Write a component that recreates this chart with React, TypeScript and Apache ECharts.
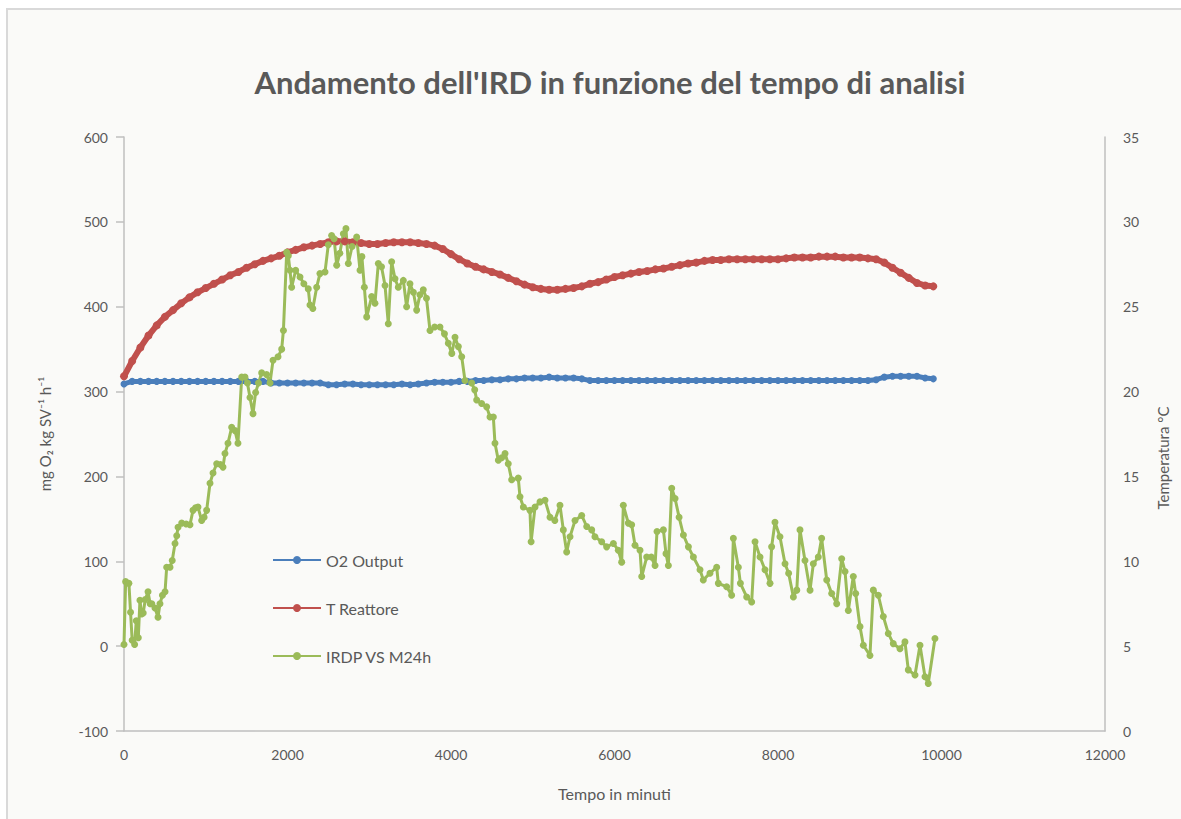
import React, { useEffect, useRef } from "react";
import * as echarts from "echarts";

// Time grid (minutes) for the two smooth series
const smoothTimes = [
  0, 100, 200, 300, 400, 500, 600, 700, 800, 900,
  1000, 1100, 1200, 1300, 1400, 1500, 1600, 1700, 1800, 1900,
  2000, 2100, 2200, 2300, 2400, 2500, 2600, 2700, 2800, 2900,
  3000, 3100, 3200, 3300, 3400, 3500, 3600, 3700, 3800, 3900,
  4000, 4100, 4200, 4300, 4400, 4500, 4600, 4700, 4800, 4900,
  5000, 5100, 5200, 5300, 5400, 5500, 5600, 5700, 5800, 5900,
  6000, 6100, 6200, 6300, 6400, 6500, 6600, 6700, 6800, 6900,
  7000, 7100, 7200, 7300, 7400, 7500, 7600, 7700, 7800, 7900,
  8000, 8100, 8200, 8300, 8400, 8500, 8600, 8700, 8800, 8900,
  9000, 9100, 9200, 9300, 9400, 9500, 9600, 9700, 9800, 9900,
];

// O2 Output (left axis)
const o2Output = [
  309, 312, 312, 312, 312, 312, 312, 312, 312, 312,
  312, 312, 312, 312, 312, 312, 312, 312, 310, 310,
  310, 310, 310, 310, 310, 308, 308, 309, 309, 308,
  308, 308, 308, 308, 309, 308, 309, 310, 311, 311,
  311, 312, 312, 313, 313, 314, 314, 315, 315, 316,
  316, 316, 317, 316, 316, 316, 315, 313, 313, 313,
  313, 313, 313, 313, 313, 313, 313, 313, 313, 313,
  313, 313, 313, 313, 313, 313, 313, 313, 313, 313,
  313, 313, 313, 313, 313, 313, 313, 313, 313, 313,
  313, 313, 314, 317, 318, 318, 318, 318, 316, 315,
];

// T Reattore (right axis, °C)
const tReattore = [
  20.9, 21.8, 22.6, 23.3, 23.9, 24.4, 24.8, 25.2, 25.55, 25.85,
  26.1, 26.35, 26.6, 26.85, 27.05, 27.3, 27.5, 27.7, 27.85, 28.0,
  28.2, 28.35, 28.5, 28.6, 28.7, 28.8, 28.85, 28.85, 28.8, 28.75,
  28.7, 28.7, 28.75, 28.8, 28.8, 28.8, 28.75, 28.7, 28.6, 28.4,
  28.1, 27.8, 27.55, 27.35, 27.2, 27.05, 26.9, 26.7, 26.5, 26.3,
  26.15, 26.05, 26.0, 26.0, 26.05, 26.1, 26.2, 26.35, 26.45, 26.6,
  26.75, 26.85, 26.95, 27.05, 27.1, 27.2, 27.25, 27.35, 27.45, 27.55,
  27.6, 27.7, 27.75, 27.75, 27.8, 27.8, 27.8, 27.8, 27.8, 27.8,
  27.8, 27.85, 27.9, 27.9, 27.9, 27.95, 27.95, 27.95, 27.9, 27.9,
  27.9, 27.85, 27.8, 27.6, 27.3, 27.0, 26.7, 26.4, 26.25, 26.2,
];

// IRDP VS M24h (left axis)
const irdpTimes = [
  0, 20, 60, 80, 100, 130, 150, 175, 195, 215, 235, 260, 294, 320, 340, 379, 416, 440, 470, 502,
  522, 563, 590, 624, 645, 661, 706, 760, 807, 844, 875, 905, 950, 980, 1011, 1052, 1089, 1134, 1180, 1211,
  1235, 1272, 1317, 1358, 1394, 1440, 1480, 1510, 1541, 1578, 1610, 1645, 1684, 1745, 1786, 1823, 1884, 1929, 1950, 1990,
  2010, 2030, 2051, 2100, 2153, 2200, 2254, 2275, 2310, 2357, 2397, 2459, 2499, 2540, 2570, 2602, 2640, 2683, 2715, 2744,
  2790, 2846, 2887, 2910, 2940, 2969, 3030, 3070, 3111, 3150, 3193, 3233, 3274, 3315, 3355, 3417, 3457, 3498, 3540, 3580,
  3620, 3661, 3700, 3743, 3800, 3865, 3920, 3967, 4010, 4049, 4090, 4131, 4171, 4253, 4290, 4314, 4375, 4436, 4477, 4518,
  4538, 4579, 4620, 4661, 4700, 4742, 4823, 4844, 4885, 4966, 4980, 5028, 5089, 5150, 5211, 5270, 5333, 5374, 5415, 5456,
  5517, 5599, 5660, 5721, 5761, 5843, 5904, 5986, 6047, 6088, 6108, 6169, 6210, 6251, 6312, 6333, 6394, 6450, 6496, 6520,
  6598, 6630, 6659, 6700, 6741, 6790, 6843, 6904, 6965, 7046, 7086, 7168, 7250, 7270, 7372, 7433, 7454, 7515, 7540, 7617,
  7678, 7719, 7780, 7841, 7902, 7922, 7963, 8024, 8086, 8130, 8188, 8230, 8269, 8330, 8392, 8432, 8493, 8534, 8596, 8657,
  8718, 8779, 8820, 8860, 8921, 8950, 9003, 9044, 9125, 9166, 9227, 9288, 9349, 9410, 9492, 9553, 9594, 9676, 9737, 9798,
  9838, 9920,
];
const irdpValues = [
  2, 76, 74, 40, 7, 2, 30, 10, 54, 38, 39, 55, 64, 50, 50, 45, 34, 50, 60, 64,
  93, 93, 101, 121, 130, 140, 145, 144, 143, 160, 163, 164, 148, 152, 160, 192, 204, 215, 214, 211,
  227, 239, 258, 254, 239, 317, 317, 310, 293, 274, 299, 310, 322, 320, 310, 337, 341, 350, 372, 464,
  460, 443, 423, 443, 435, 427, 421, 402, 398, 423, 439, 441, 473, 484, 480, 449, 463, 486, 492, 451,
  471, 482, 443, 459, 423, 388, 412, 404, 451, 447, 425, 380, 453, 433, 423, 431, 400, 427, 417, 396,
  414, 420, 410, 372, 376, 376, 368, 357, 345, 364, 353, 341, 313, 310, 302, 290, 286, 282, 270, 270,
  239, 219, 222, 227, 215, 196, 198, 176, 164, 160, 123, 164, 170, 172, 152, 148, 166, 137, 111, 129,
  148, 154, 141, 137, 129, 123, 117, 121, 113, 99, 166, 145, 143, 119, 113, 82, 105, 105, 95, 135,
  137, 109, 95, 186, 174, 152, 131, 117, 105, 90, 78, 86, 93, 74, 70, 60, 127, 93, 74, 58,
  52, 123, 105, 90, 74, 117, 146, 129, 97, 86, 58, 66, 137, 101, 66, 97, 105, 127, 78, 62,
  50, 103, 88, 42, 82, 62, 23, 1, -11, 66, 60, 35, 15, 3, -3, 5, -28, -34, 1, -36,
  -44, 9,
];

const seriesNames = ["O2 Output", "T Reattore", "IRDP VS M24h"];
const colors = ["#4A7EBB", "#C0504D", "#9BBB59"];

export default function App() {
  const ref = useRef<HTMLDivElement>(null);

  useEffect(() => {
    if (!ref.current) return;
    const chart = echarts.init(ref.current, null, { renderer: "svg" });
    const font = "Lato, 'Noto Sans', sans-serif";
    const textColor = "#595959";
    const axisColor = "#BFBFBF";

    const zip = (xs: number[], ys: number[]) => xs.map((x, i) => [x, ys[i]]);

    chart.setOption({
      animation: false,
      backgroundColor: "transparent",
      textStyle: { fontFamily: font },
      title: {
        text: "Andamento dell'IRD in funzione del tempo di analisi",
        left: 605,
        textAlign: "center",
        top: 61,
        textStyle: { fontFamily: font, fontSize: 31, fontWeight: "bold", color: textColor },
      },
      grid: { left: 124, right: 76, top: 137, bottom: 88, outerBoundsMode: "none" },
      legend: {
        orient: "vertical",
        left: 272,
        top: 552,
        itemWidth: 48,
        itemHeight: 10,
        itemGap: 32,
        padding: 0,
        data: seriesNames,
        textStyle: { fontFamily: font, fontSize: 16, color: textColor },
      },
      xAxis: {
        type: "value",
        min: 0,
        max: 12000,
        interval: 2000,
        name: "Tempo in minuti",
        nameLocation: "middle",
        nameGap: 54,
        nameTextStyle: { fontFamily: font, fontSize: 16, color: textColor },
        axisLine: { show: true, onZero: false, lineStyle: { color: axisColor, width: 1.5 } },
        axisTick: { show: false },
        axisLabel: {
          fontFamily: font,
          fontSize: 14,
          color: textColor,
          margin: 16,
          formatter: (v: number) => String(v),
        },
        splitLine: { show: false },
      },
      yAxis: [
        {
          type: "value",
          min: -100,
          max: 600,
          interval: 100,
          position: "left",
          name: "mg O\u2082 kg SV\u207B\u00B9 h\u207B\u00B9",
          nameLocation: "middle",
          nameGap: 72,
          nameTextStyle: { fontFamily: font, fontSize: 15, color: textColor },
          axisLine: { show: true, onZero: false, lineStyle: { color: axisColor, width: 1.5 } },
          axisTick: { show: true, length: 8, lineStyle: { color: axisColor, width: 1.5 } },
          axisLabel: { fontFamily: font, fontSize: 14, color: textColor, margin: 16 },
          splitLine: { show: false },
        },
        {
          type: "value",
          min: 0,
          max: 35,
          interval: 5,
          position: "right",
          axisLine: { show: true, onZero: false, lineStyle: { color: axisColor, width: 1.5 } },
          axisTick: { show: false },
          axisLabel: { fontFamily: font, fontSize: 14, color: textColor, margin: 18 },
          splitLine: { show: false },
        },
      ],
      graphic: [
        {
          type: "text",
          x: 1163,
          y: 458,
          rotation: Math.PI / 2,
          style: {
            text: "Temperatura \u00B0C",
            fontFamily: font,
            fontSize: 15,
            fill: textColor,
            textAlign: "center",
            textVerticalAlign: "middle",
          },
        },
      ],
      series: [
        {
          name: seriesNames[0],
          type: "line",
          yAxisIndex: 0,
          data: zip(smoothTimes, o2Output),
          symbol: "circle",
          symbolSize: 7,
          lineStyle: { color: colors[0], width: 5 },
          itemStyle: { color: colors[0] },
        },
        {
          name: seriesNames[1],
          type: "line",
          yAxisIndex: 1,
          data: zip(smoothTimes, tReattore),
          symbol: "circle",
          symbolSize: 8,
          lineStyle: { color: colors[1], width: 6 },
          itemStyle: { color: colors[1] },
        },
        {
          name: seriesNames[2],
          type: "line",
          yAxisIndex: 0,
          data: zip(irdpTimes, irdpValues),
          symbol: "circle",
          symbolSize: 7,
          lineStyle: { color: colors[2], width: 3 },
          itemStyle: { color: colors[2] },
        },
      ],
    });

    return () => chart.dispose();
  }, []);

  return (
    <div
      style={{
        position: "absolute",
        left: 0,
        top: 0,
        width: 1181,
        height: 819,
        overflow: "hidden",
        background: "#ffffff",
      }}
    >
      <div
        style={{
          position: "absolute",
          left: 6,
          top: 8,
          width: 1300,
          height: 900,
          border: "2px solid #D9D9D9",
          background: "#FAFAF8",
        }}
      />
      <div ref={ref} style={{ position: "absolute", left: 0, top: 0, width: 1181, height: 819 }} />
    </div>
  );
}
